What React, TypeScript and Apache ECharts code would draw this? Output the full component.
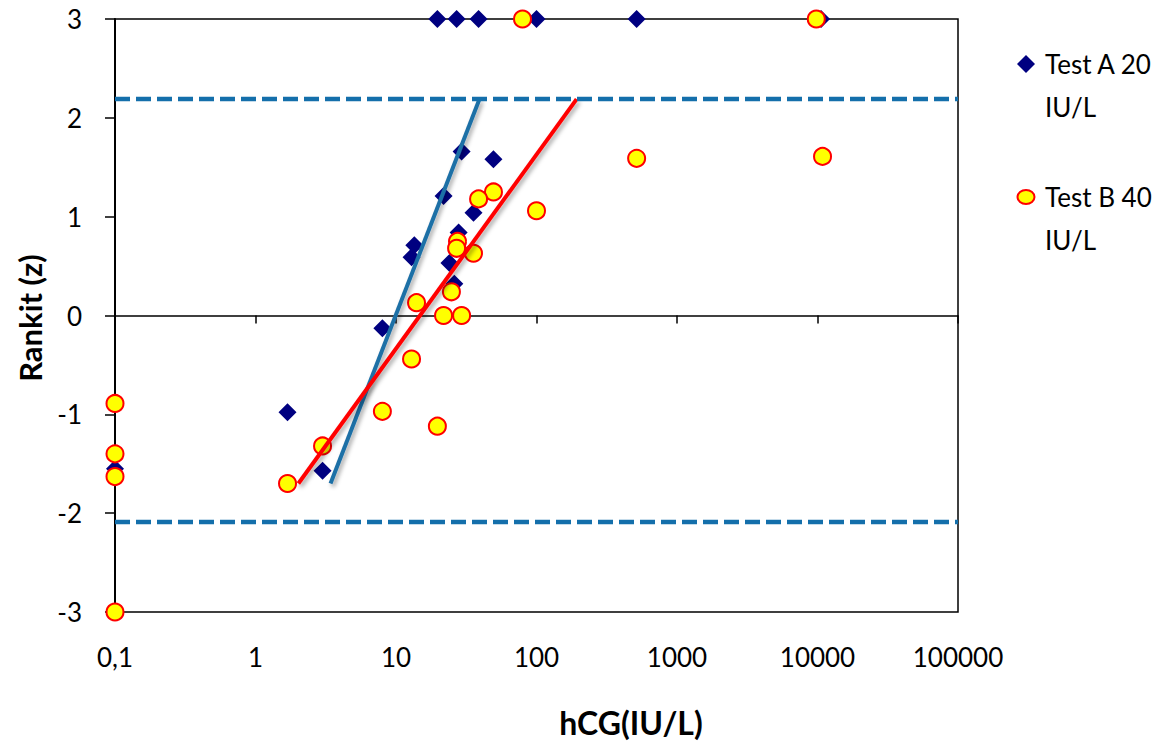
import React, { useEffect, useRef } from "react";
import * as echarts from "echarts";

const testAName = "Test A 20 IU/L";
const testBName = "Test B 40 IU/L";

const testAHcg = [19.7, 27, 38.7, 100, 516, 10600, 29.3, 49.4, 21.8, 35.6, 27.9, 13.5, 12.9, 24, 26, 8.0, 1.69, 3.0, 0.1];
const testARankit = [3, 3, 3, 3, 3, 3, 1.66, 1.58, 1.21, 1.04, 0.84, 0.71, 0.59, 0.53, 0.32, -0.13, -0.98, -1.57, -1.55];

const testBHcg = [79.5, 9800, 516, 10860, 49.4, 38.7, 100, 27.4, 27, 35.6, 24.8, 14, 21.8, 29.3, 12.9, 8.0, 19.7, 3.0, 1.69, 0.1, 0.1, 0.1, 0.1];
const testBRankit = [3, 3, 1.59, 1.61, 1.25, 1.18, 1.06, 0.75, 0.68, 0.63, 0.24, 0.13, 0, 0, -0.44, -0.97, -1.12, -1.32, -1.7, -0.89, -1.4, -1.63, -3];

const fitAHcg = [3.42, 39.3];
const fitARankit = [-1.7, 2.19];
const fitBHcg = [2.02, 193];
const fitBRankit = [-1.7, 2.19];

const limitHcg = [0.1, 100000];
const upperLimit = 2.19;
const lowerLimit = -2.09;

const xTickLabels: Record<string, string> = { "-1": "0,1", "0": "1", "1": "10", "2": "100", "3": "1000", "4": "10000", "5": "100000" };

const FONT = "Lato";
const zip = (xs: number[], ys: number[]) => xs.map((x, i) => [x, ys[i]]);

const shadow = { shadowColor: "rgba(0,0,0,0.35)", shadowBlur: 4, shadowOffsetX: 2, shadowOffsetY: 3 };

export default function App() {
  const ref = useRef<HTMLDivElement>(null);
  useEffect(() => {
    if (!ref.current) return;
    const chart = echarts.init(ref.current, undefined, { renderer: "svg" });
    chart.setOption({
      animation: false,
      backgroundColor: "#ffffff",
      grid: { left: 115, right: 211, top: 19, bottom: 132, show: true, borderColor: "#000", borderWidth: 1.5, backgroundColor: "transparent" },
      xAxis: [
        {
          type: "log",
          logBase: 10,
          min: 0.1,
          max: 100000,
          position: "bottom",
          axisLine: { show: false, onZero: false },
          axisTick: { show: false },
          splitLine: { show: false },
          axisLabel: {
            margin: 32,
            fontFamily: FONT,
            fontSize: 26,
            color: "#000",
            formatter: (v: number) => xTickLabels[String(Math.round(Math.log10(v)))] ?? String(v),
          },
        },
        {
          type: "log",
          logBase: 10,
          min: 0.1,
          max: 100000,
          position: "top",
          axisLine: { show: true, onZero: true, lineStyle: { color: "#000", width: 1.5 } },
          axisTick: { show: true, inside: true, length: 8, lineStyle: { color: "#000", width: 1.5 } },
          axisLabel: { show: false },
          splitLine: { show: false },
        },
      ],
      yAxis: {
        type: "value",
        min: -3,
        max: 3,
        interval: 1,
        axisLine: { show: true, onZero: false, lineStyle: { color: "#000", width: 2 } },
        axisTick: { show: true, length: 10, lineStyle: { color: "#000", width: 1.5 } },
        splitLine: { show: false },
        axisLabel: { margin: 33, fontFamily: FONT, fontSize: 26, color: "#000" },
      },
      series: [
        {
          name: testAName,
          type: "scatter",
          clip: false,
          symbol: "diamond",
          symbolSize: 18,
          itemStyle: { color: "#000080", opacity: 1 },
          data: zip(testAHcg, testARankit),
        },
        {
          name: testBName,
          type: "scatter",
          clip: false,
          symbol: "circle",
          symbolSize: 17,
          itemStyle: { color: "#ffff00", borderColor: "#ff0000", borderWidth: 2, opacity: 1 },
          data: zip(testBHcg, testBRankit),
        },
        {
          name: "Fit A",
          type: "line",
          symbol: "none",
          lineStyle: { color: "#1f6fa6", width: 4, ...shadow },
          data: zip(fitAHcg, fitARankit),
        },
        {
          name: "Fit B",
          type: "line",
          symbol: "none",
          lineStyle: { color: "#ff0000", width: 4, ...shadow },
          data: zip(fitBHcg, fitBRankit),
        },
        {
          name: "Upper limit",
          type: "line",
          symbol: "none",
          clip: false,
          lineStyle: { color: "#146fab", width: 4.5, type: [15, 6] },
          data: zip(limitHcg, [upperLimit, upperLimit]),
        },
        {
          name: "Lower limit",
          type: "line",
          symbol: "none",
          clip: false,
          lineStyle: { color: "#146fab", width: 4.5, type: [15, 6] },
          data: zip(limitHcg, [lowerLimit, lowerLimit]),
        },
      ],
      graphic: [
        {
          type: "text",
          x: 631,
          y: 722,
          style: { text: "hCG(IU/L)", fontFamily: FONT, fontSize: 32, fontWeight: "bold", fill: "#000", align: "center", verticalAlign: "middle" },
        },
        {
          type: "text",
          x: 30,
          y: 318,
          rotation: Math.PI / 2,
          style: { text: "Rankit (z)", fontFamily: FONT, fontSize: 31, fontWeight: "bold", fill: "#000", align: "center", verticalAlign: "middle" },
        },
        {
          type: "polygon",
          shape: { points: [[1026, 55], [1035, 64], [1026, 73], [1017, 64]] },
          style: { fill: "#000080" },
        },
        {
          type: "text",
          x: 1045,
          y: 42,
          style: { text: "Test A 20\nIU/L", fontFamily: FONT, fontSize: 26, lineHeight: 43, fill: "#000", verticalAlign: "top" },
        },
        {
          type: "ellipse",
          shape: { cx: 1026, cy: 197, rx: 8.5, ry: 7 },
          style: { fill: "#ffff00", stroke: "#ff0000", lineWidth: 2 },
        },
        {
          type: "text",
          x: 1045,
          y: 175,
          style: { text: "Test B 40\nIU/L", fontFamily: FONT, fontSize: 26, lineHeight: 43, fill: "#000", verticalAlign: "top" },
        },
      ],
    });
    return () => chart.dispose();
  }, []);
  return <div ref={ref} style={{ position: "fixed", left: 0, top: 0, width: 1169, height: 744 }} />;
}
